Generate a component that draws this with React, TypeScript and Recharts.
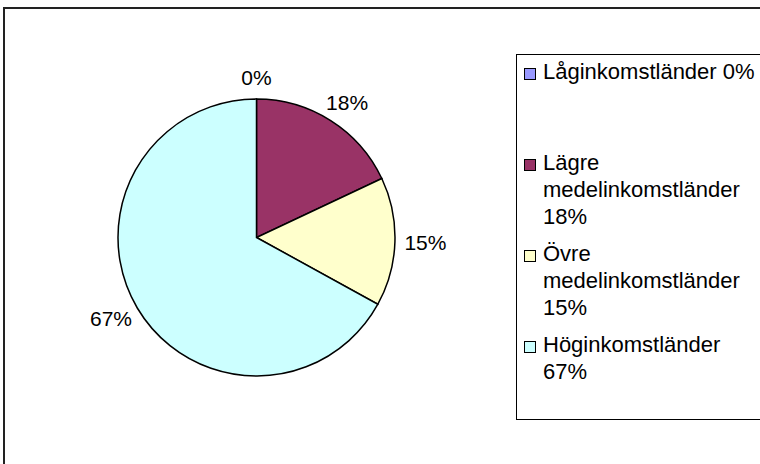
import { PieChart, Pie, Cell } from 'recharts'

const categories = ['Låginkomstländer', 'Lägre medelinkomstländer', 'Övre medelinkomstländer', 'Höginkomstländer']
const shares = [0, 18, 15, 67]
const legendLines = [
  ['Låginkomstländer 0%'],
  ['Lägre', 'medelinkomstländer', '18%'],
  ['Övre', 'medelinkomstländer', '15%'],
  ['Höginkomstländer', '67%'],
]
const colors = ['#9999FF', '#993366', '#FFFFCC', '#CCFFFF']

const FONT = '"Liberation Sans", Arial, sans-serif'
const RAD = Math.PI / 180

const chartData = categories.map((name, i) => ({ name, value: shares[i] }))

// Excel-style outside label: anchor on a circle, then push the text box outwards
function renderLabel(props: any) {
  const { cx, cy, midAngle, percent } = props
  const text = `${Math.round(percent * 100)}%`
  const fontSize = 21
  const w = fontSize * (0.556 * (text.length - 1) + 0.889)
  const h = 24
  const r0 = 148
  const c = Math.cos(midAngle * RAD)
  const s = Math.sin(midAngle * RAD)
  const x = cx + r0 * c + (w / 2) * c
  const y = cy - r0 * s - (h / 2) * s
  return (
    <text
      x={x}
      y={y}
      textAnchor="middle"
      dominantBaseline="central"
      fontSize={fontSize}
      fontFamily={FONT}
      fill="#000"
    >
      {text}
    </text>
  )
}

function LegendBox() {
  return (
    <div
      style={{
        position: 'absolute',
        left: 516,
        top: 54,
        width: 300,
        height: 366,
        border: '1px solid #000',
        boxSizing: 'border-box',
        display: 'flex',
        flexDirection: 'column',
        fontFamily: FONT,
        fontSize: 22,
        lineHeight: '27px',
        color: '#000',
      }}
    >
      {legendLines.map((lines, i) => (
        <div key={categories[i]} style={{ flex: 1, position: 'relative', paddingTop: 3 }}>
          <div
            style={{
              position: 'absolute',
              left: 7,
              top: 13,
              width: 10,
              height: 10,
              background: colors[i],
              border: '1px solid #000',
            }}
          />
          <div style={{ marginLeft: 26, whiteSpace: 'nowrap' }}>
            {lines.map((l) => (
              <div key={l}>{l}</div>
            ))}
          </div>
        </div>
      ))}
    </div>
  )
}

export default function App() {
  return (
    <div
      style={{
        position: 'fixed',
        left: 0,
        top: 0,
        width: 760,
        height: 464,
        overflow: 'hidden',
        background: '#fff',
      }}
    >
      <div
        style={{
          position: 'absolute',
          left: 3,
          top: 7,
          width: 800,
          height: 500,
          borderLeft: '2px solid #222',
          borderTop: '2px solid #222',
        }}
      />
      <div style={{ position: 'absolute', left: 0, top: 0 }}>
        <PieChart width={760} height={464} margin={{ top: 0, right: 0, bottom: 0, left: 0 }}>
          <Pie
            data={chartData}
            dataKey="value"
            nameKey="name"
            cx={256.5}
            cy={237.5}
            outerRadius={138.5}
            startAngle={90}
            endAngle={-270}
            stroke="#000"
            strokeWidth={1.5}
            label={renderLabel}
            labelLine={false}
            isAnimationActive={false}
          >
            {chartData.map((d, i) => (
              <Cell key={d.name} fill={colors[i]} />
            ))}
          </Pie>
        </PieChart>
      </div>
      <LegendBox />
    </div>
  )
}
